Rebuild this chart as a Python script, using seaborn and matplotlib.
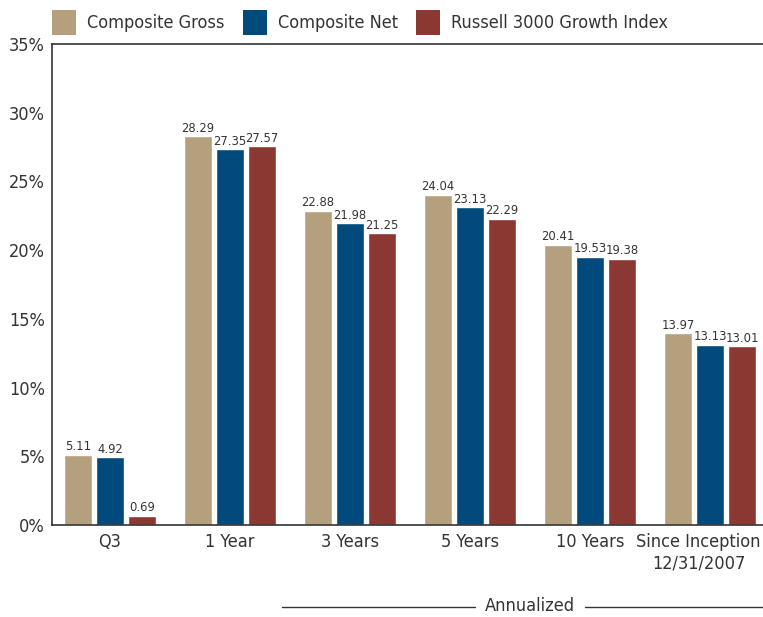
import pandas as pd
import seaborn as sns
import matplotlib.pyplot as plt
import matplotlib.transforms as mtransforms
from matplotlib import font_manager
from matplotlib.font_manager import FontProperties
from matplotlib.patches import Patch
from matplotlib.lines import Line2D

# data
periods = ['Q3', '1 Year', '3 Years', '5 Years', '10 Years', 'Since Inception\n12/31/2007']
series = ['Composite Gross', 'Composite Net', 'Russell 3000 Growth Index']
gross = [5.11, 28.29, 22.88, 24.04, 20.41, 13.97]
net = [4.92, 27.35, 21.98, 23.13, 19.53, 13.13]
russell = [0.69, 27.57, 21.25, 22.29, 19.38, 13.01]
colors = ['#B5A07E', '#004B7C', '#8B3832']
yticks = [0, 5, 10, 15, 20, 25, 30, 35]

rows = []
for name, vals in zip(series, [gross, net, russell]):
    for p, v in zip(periods, vals):
        rows.append((p, name, v))
df = pd.DataFrame(rows, columns=['period', 'series', 'value'])

# condensed sans for the text (the original is a narrow face)
font_file = None
for f in font_manager.fontManager.ttflist:
    if f.fname.endswith('DejaVuSansCondensed.ttf'):
        font_file = f.fname
        break


def fp(size):
    if font_file:
        return FontProperties(fname=font_file, size=size)
    return FontProperties(family='DejaVu Sans', stretch='condensed', size=size)


sns.set_style('white')
plt.rcParams['font.family'] = ['DejaVu Sans']
txt = '#333333'

W, H = 763, 617
fig = plt.figure(figsize=(W / 100, H / 100), dpi=100)
# axes: left spine at x=52, bottom at y=525, top at y=44
ax = fig.add_axes([52 / W, 1 - 525 / H, (W - 52) / W, (525 - 44) / H])

sns.barplot(data=df, x='period', y='value', hue='series', palette=colors,
            saturation=1, width=0.8, gap=0.1, edgecolor='white', linewidth=1,
            legend=False, ax=ax)

for cont in ax.containers:
    ax.bar_label(cont, fmt='%.2f', padding=1, fontproperties=fp(9.3), color=txt)

ax.set_xlim(-0.483, 5.442)
ax.set_ylim(0, 35)
ax.set_yticks(yticks)
ax.set_yticklabels([f'{t}%' for t in yticks])
ax.set_xlabel('')
ax.set_ylabel('')
ax.tick_params(axis='both', length=0, colors=txt)
ax.tick_params(axis='y', pad=5)
ax.tick_params(axis='x', pad=6)
for lab in ax.get_xticklabels() + ax.get_yticklabels():
    lab.set_fontproperties(fp(13))
for s in ['left', 'bottom', 'top']:
    ax.spines[s].set_color('#333333')
    ax.spines[s].set_linewidth(1.2)
ax.spines['right'].set_visible(False)

# legend row across the top
handles = [Patch(facecolor=c, edgecolor='none') for c in colors]
fig.legend(handles, series, loc='upper left', bbox_to_anchor=(52 / W, 1 - 10 / H),
           ncol=3, frameon=False, prop=fp(13), labelcolor=txt,
           handlelength=1.35, handleheight=1.75, handletextpad=0.6,
           columnspacing=1.0, borderpad=0, borderaxespad=0)

# "Annualized" bracket
fig.text(530 / W, 1 - 606 / H, 'Annualized', fontproperties=fp(13), color=txt,
         ha='center', va='center')
fig.add_artist(Line2D([282 / W, 475 / W], [1 - 607 / H] * 2, color=txt, lw=1))
fig.add_artist(Line2D([585 / W, 1.0], [1 - 607 / H] * 2, color=txt, lw=1))

# keep the last category label inside the canvas
fig.canvas.draw()
last = ax.get_xticklabels()[-1]
over = last.get_window_extent().x1 - (W - 2)
if over > 0:
    last.set_transform(last.get_transform() +
                       mtransforms.ScaledTranslation(-over / 100, 0, fig.dpi_scale_trans))

fig.savefig('out.png', dpi=100)
